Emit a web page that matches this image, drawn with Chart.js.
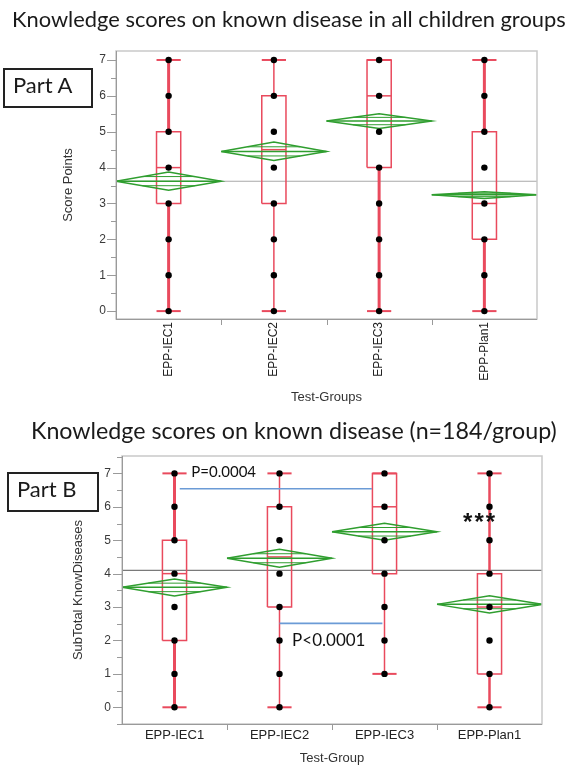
<!DOCTYPE html>
<html><head><meta charset="utf-8">
<script src="https://cdn.jsdelivr.net/npm/chart.js@4.4.1/dist/chart.umd.min.js"></script>
<style>
html,body{margin:0;padding:0;background:#fff;width:574px;height:767px;overflow:hidden;}
canvas{position:absolute;left:0;}
.txt{position:absolute;font-family:Lato,'Open Sans',sans-serif;color:#1a1a1a;white-space:nowrap;line-height:1;z-index:3;}
.box{position:absolute;box-sizing:border-box;border:2px solid #222;z-index:2;background:transparent;}
</style></head><body>
<canvas id="cA" width="574" height="420" style="top:0px"></canvas>
<canvas id="cB" width="574" height="347" style="top:420px"></canvas>
<div class="box" style="left:3px;top:68px;width:90px;height:40px;"></div>
<div class="box" style="left:7px;top:472px;width:92px;height:40px;"></div>
<div id="titleA" class="txt">Knowledge scores on known disease in all children groups</div>
<div id="titleB" class="txt">Knowledge scores on known disease (n=184/group)</div>
<div id="partA" class="txt">Part A</div>
<div id="partB" class="txt">Part B</div>
<script>
// ---------- data ----------
const categories = ['EPP-IEC1', 'EPP-IEC2', 'EPP-IEC3', 'EPP-Plan1'];
const yTickValues = [0, 1, 2, 3, 4, 5, 6, 7];

// Part A
const aWhiskerLow  = [0, 0, 0, 0];
const aQ1          = [3, 3, 4, 2];
const aMedian      = [4, 4.5, 6, 3];
const aQ3          = [5, 6, 7, 5];
const aWhiskerHigh = [7, 7, 7, 7];
const aMean        = [3.62, 4.45, 5.30, 3.24];
const aCiLow       = [3.37, 4.20, 5.09, 3.14];
const aCiHigh      = [3.88, 4.71, 5.50, 3.33];
const aPointsIEC1  = [0, 1, 2, 3, 4, 5, 6, 7];
const aPointsIEC2  = [0, 1, 2, 3, 4, 5, 6, 7];
const aPointsIEC3  = [0, 1, 2, 3, 4, 5, 6, 7];
const aPointsPlan1 = [0, 1, 2, 3, 4, 5, 6, 7];
const aGrandMean   = 3.62;

// Part B
const bWhiskerLow  = [0, 0, 1, 0];
const bQ1          = [2, 3, 4, 1];
const bMedian      = [4, 4.5, 6, 3];
const bQ3          = [5, 6, 7, 4];
const bWhiskerHigh = [7, 7, 7, 7];
const bMean        = [3.59, 4.46, 5.25, 3.08];
const bCiLow       = [3.33, 4.19, 5.00, 2.82];
const bCiHigh      = [3.84, 4.73, 5.51, 3.34];
const bPointsIEC1  = [0, 1, 2, 3, 4, 5, 6, 7];
const bPointsIEC2  = [0, 1, 2, 3, 4, 5, 6, 7];
const bPointsIEC3  = [1, 2, 3, 4, 5, 6, 7];
const bPointsPlan1 = [0, 1, 2, 3, 4, 5, 6, 7];
const bGrandMean   = 4.10;
// significance brackets (from group, to group, level)
const bBracketFrom = [1.05, 2.0];
const bBracketTo   = [2.88, 2.98];
const bBracketY    = [6.54, 2.51];
const bNoteTexts   = ['P=0.0004', 'P<0.0001', '***'];

// ---------- text placement ----------
const mctx = document.createElement('canvas').getContext('2d');
function placeText(id, family, weight, size, left, baseline, fitWidth) {
  const el = document.getElementById(id);
  const text = el.textContent;
  mctx.font = `${weight} ${size}px ${family}`;
  let m = mctx.measureText(text);
  if (fitWidth) {
    size = size * fitWidth / m.width;
    mctx.font = `${weight} ${size}px ${family}`;
    m = mctx.measureText(text);
  }
  const asc = m.fontBoundingBoxAscent, desc = m.fontBoundingBoxDescent;
  const off = (size - (asc + desc)) / 2 + asc;
  el.style.fontSize = size + 'px';
  el.style.fontWeight = weight;
  el.style.left = left + 'px';
  el.style.top = (baseline - off) + 'px';
}
placeText('titleA', 'Lato', 400, 21, 12, 27, 554);
placeText('titleB', 'Lato', 400, 21, 31, 440, 526);
placeText('partA', 'Lato', 400, 22, 13, 93, 0);
placeText('partB', 'Lato', 400, 22, 17, 497, 0);

// ---------- chart building ----------
Chart.defaults.font.family = "'Liberation Sans', Arial, sans-serif";

const RED = '#e94a5d', GREEN = '#2f9e2f';

function panelDatasets(p, st) {
  const ds = [];
  const pts = [];
  p.points.forEach((arr, i) => arr.forEach(v => pts.push({x: i + 1, y: v})));
  ds.push({data: pts, showLine: false, pointRadius: 3.2, pointBackgroundColor: '#000',
           pointBorderColor: '#000', pointBorderWidth: 0, order: 0});
  const seg = (data, color, w, order) => ds.push({data, showLine: true, borderColor: color,
           borderWidth: w, pointRadius: 0, order, tension: 0, fill: false});
  p.q1.forEach((q1, i) => {
    const x = i + 1, hw = st.boxHalf;
    const q3 = p.q3[i], med = p.median[i], wl = p.whiskerLow[i], wh = p.whiskerHigh[i];
    if (wl < q1) seg([{x, y: wl}, {x, y: q1}], RED, st.whiskerW[i], 3);
    if (wh > q3) seg([{x, y: q3}, {x, y: wh}], RED, st.whiskerW[i], 3);
    seg([{x: x - hw, y: wl}, {x: x + hw, y: wl}], RED, st.capW, 3);
    seg([{x: x - hw, y: wh}, {x: x + hw, y: wh}], RED, st.capW, 3);
    seg([{x: x - hw, y: q1}, {x: x + hw, y: q1}, {x: x + hw, y: q3}, {x: x - hw, y: q3}, {x: x - hw, y: q1}], RED, 1.5, 3);
    seg([{x: x - hw, y: med}, {x: x + hw, y: med}], RED, 1.5, 3);
    const m = p.mean[i], lo = p.ciLow[i], hi = p.ciHigh[i];
    seg([{x: x - 0.5, y: m}, {x, y: hi}, {x: x + 0.5, y: m}, {x, y: lo}, {x: x - 0.5, y: m}], GREEN, 1.5, 2);
    seg([{x: x - 0.5, y: m}, {x: x + 0.5, y: m}], GREEN, 1.5, 2);
    const u = m + (hi - m) / 2, d = m - (m - lo) / 2;
    seg([{x: x - 0.25, y: u}, {x: x + 0.25, y: u}], GREEN, 1, 2);
    seg([{x: x - 0.25, y: d}, {x: x + 0.25, y: d}], GREEN, 1, 2);
  });
  seg([{x: 0.5, y: p.grandMean}, {x: 4.5, y: p.grandMean}], st.grand, 1.2, 4);
  (p.brackets || []).forEach(b => seg([{x: b.from, y: b.y}, {x: b.to, y: b.y}], '#6b9bd6', 1.6, 1));
  return ds;
}

const frameTicks = {
  id: 'frameTicks',
  afterDraw(chart, args, o) {
    const {ctx, chartArea: a} = chart;
    const ys = chart.scales.y, xs = chart.scales.x;
    ctx.save();
    ctx.strokeStyle = '#c9c9c9';
    ctx.lineWidth = 1.5;
    ctx.strokeRect(a.left, a.top, a.right - a.left, a.bottom - a.top);
    ctx.strokeStyle = '#9a9a9a';
    ctx.lineWidth = 1;
    ctx.beginPath();
    ctx.moveTo(a.left + 0.5, a.top); ctx.lineTo(a.left + 0.5, a.bottom);
    ctx.moveTo(a.left, a.bottom + 0.5); ctx.lineTo(a.right, a.bottom + 0.5);
    for (let v = Math.ceil(ys.min * 2) / 2; v <= ys.max; v += 0.5) {
      const y = Math.round(ys.getPixelForValue(v)) + 0.5;
      const len = Number.isInteger(v) ? o.major : o.minor;
      ctx.moveTo(a.left - len, y); ctx.lineTo(a.left, y);
    }
    for (let k = 1; k < categories.length; k++) {
      const x = Math.round(xs.getPixelForValue(k + 0.5)) + 0.5;
      ctx.moveTo(x, a.bottom); ctx.lineTo(x, a.bottom + o.xTick);
    }
    ctx.stroke();
    ctx.restore();
  }
};

const notes = {
  id: 'notes',
  afterDatasetsDraw(chart, args, o) {
    const {ctx} = chart;
    const xs = chart.scales.x, ys = chart.scales.y;
    (o.items || []).forEach(it => {
      ctx.save();
      ctx.font = it.font;
      ctx.textAlign = it.align || 'left';
      ctx.textBaseline = 'middle';
      if (it.spacing) ctx.letterSpacing = it.spacing;
      const px = xs.getPixelForValue(it.x), py = ys.getPixelForValue(it.y);
      if (it.bg) {
        const w = ctx.measureText(it.text).width;
        ctx.fillStyle = '#fff';
        ctx.fillRect(px - 3, py - 9, w + 6, 18);
      }
      ctx.fillStyle = '#111';
      ctx.fillText(it.text, px, py);
      ctx.restore();
    });
  }
};

function makeChart(id, p, st, ax) {
  return new Chart(document.getElementById(id), {
    type: 'scatter',
    data: {datasets: panelDatasets(p, st)},
    options: {
      responsive: false, animation: false, devicePixelRatio: 1,
      layout: {padding: ax.padding},
      events: [],
      plugins: {
        legend: {display: false}, tooltip: {enabled: false}, title: {display: false},
        frameTicks: {major: 9, minor: 5, xTick: 6},
        notes: {items: ax.notes || []}
      },
      scales: {
        x: {
          type: 'linear', min: 0.5, max: 4.5,
          grid: {display: false, drawTicks: false}, border: {display: false},
          afterBuildTicks: s => { s.ticks = categories.map((c, i) => ({value: i + 1})); },
          afterFit: s => { s.height = ax.xHeight; },
          ticks: {autoSkip: false, minRotation: ax.rot, maxRotation: ax.rot, padding: ax.xPad,
                  color: '#222', font: {size: ax.xFont},
                  callback: v => categories[Math.round(v) - 1]},
          title: {display: true, text: ax.xTitle, color: '#333', font: {size: 13},
                  padding: {top: 0, bottom: ax.xTitlePad}}
        },
        y: {
          type: 'linear', min: ax.ymin, max: ax.ymax,
          grid: {display: false, drawTicks: false}, border: {display: false},
          afterBuildTicks: s => { s.ticks = yTickValues.map(v => ({value: v})); },
          afterFit: s => { s.width = ax.yWidth; },
          ticks: {padding: ax.yPad, color: '#3a3a3a', font: {size: 12}},
          title: {display: true, text: ax.yTitle, color: '#333', font: {size: 13},
                  padding: {top: ax.yTitlePad, bottom: 0}}
        }
      }
    },
    plugins: [frameTicks, notes]
  });
}

makeChart('cA', {
  whiskerLow: aWhiskerLow, q1: aQ1, median: aMedian, q3: aQ3, whiskerHigh: aWhiskerHigh,
  mean: aMean, ciLow: aCiLow, ciHigh: aCiHigh,
  points: [aPointsIEC1, aPointsIEC2, aPointsIEC3, aPointsPlan1], grandMean: aGrandMean
}, {boxHalf: 0.115, capW: 2, whiskerW: [3, 1.5, 3, 3], grand: '#a8a8a8'}, {
  padding: {left: 55, right: 37, top: 51, bottom: 14},
  yWidth: 61, xHeight: 87, ymin: -0.22, ymax: 7.25, rot: 90, xPad: 3, xFont: 12,
  xTitle: 'Test-Groups', xTitlePad: 1, yTitle: 'Score Points', yTitlePad: 6, yPad: 10
});

makeChart('cB', {
  whiskerLow: bWhiskerLow, q1: bQ1, median: bMedian, q3: bQ3, whiskerHigh: bWhiskerHigh,
  mean: bMean, ciLow: bCiLow, ciHigh: bCiHigh,
  points: [bPointsIEC1, bPointsIEC2, bPointsIEC3, bPointsPlan1], grandMean: bGrandMean,
  brackets: bBracketFrom.map((f, i) => ({from: f, to: bBracketTo[i], y: bBracketY[i]}))
}, {boxHalf: 0.115, capW: 2, whiskerW: [3, 1.5, 1.5, 2.5], grand: '#7a7a7a'}, {
  padding: {left: 60, right: 32, top: 36, bottom: 1},
  yWidth: 62, xHeight: 42, ymin: -0.5, ymax: 7.52, rot: 0, xPad: 4, xFont: 13,
  xTitle: 'Test-Group', xTitlePad: 0, yTitle: 'SubTotal KnowDiseases', yTitlePad: 11, yPad: 11,
  notes: [
    {text: bNoteTexts[0], x: 1.16, y: 7.04, font: "15px Lato", bg: true},
    {text: bNoteTexts[1], x: 2.12, y: 2.01, font: "17px Lato"},
    {text: bNoteTexts[2], x: 3.91, y: 5.51, font: "bold 24px 'Liberation Sans'", align: 'center', spacing: '2px'}
  ]
});
</script>
</body></html>
